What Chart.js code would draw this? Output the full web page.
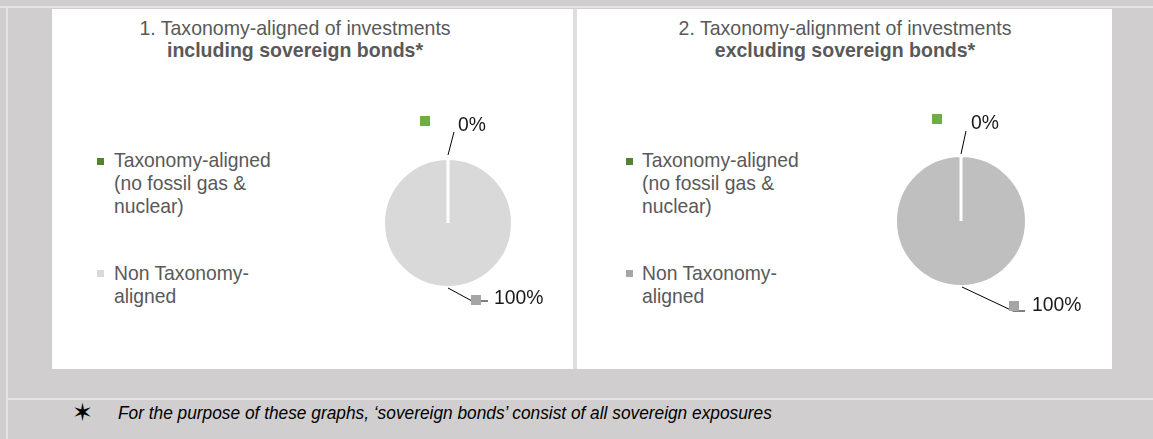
<!DOCTYPE html>
<html>
<head>
<meta charset="utf-8">
<script src="https://cdn.jsdelivr.net/npm/chart.js@4"></script>
<style>
  body { margin: 0; background: #d0cece; }
  #wrap { position: relative; width: 1153px; height: 439px; background: #d0cece; overflow: hidden;
          font-family: "Liberation Sans", Arial, sans-serif; }
  .abs { position: absolute; }
  .line { position: absolute; background: #e4e4e4; }
  .panel { position: absolute; top: 9px; height: 360px; background: #fff; }
  .title { position: absolute; width: 400px; text-align: center; font-size: 21px; line-height: 22px; color: #595959;
           transform: scaleX(0.93); transform-origin: 50% 0; }
  .leg { position: absolute; font-size: 21px; line-height: 23px; color: #595959; white-space: nowrap;
         transform: scaleX(0.92); transform-origin: 0 0; }
  .key { position: absolute; width: 7px; height: 7px; }
  canvas { position: absolute; }
  #note { position: absolute; left: 118px; top: 402px; font-size: 18.5px; line-height: 22px; font-style: italic; color: #000;
          white-space: nowrap; transform: scaleX(0.935); transform-origin: 0 0; }
  #star { position: absolute; left: 72px; top: 400px; font-size: 25px; line-height: 26px; font-family: "DejaVu Sans", sans-serif; }
</style>
</head>
<body>
<div id="wrap">
  <div class="line" style="left:0;top:6px;width:1153px;height:2px"></div>
  <div class="line" style="left:6px;top:6px;width:2px;height:433px"></div>
  <div class="line" style="left:6px;top:398px;width:1147px;height:2px"></div>

  <div class="panel" style="left:52px;width:521px"></div>
  <div class="abs" style="left:573px;top:9px;width:4px;height:360px;background:#dedede"></div>
  <div class="panel" style="left:577px;width:535px"></div>

  <div class="title" id="title1" style="left:95px;top:17px"></div>
  <div class="title" id="title2" style="left:645px;top:17px"></div>

  <div class="key" style="left:97px;top:158px;background:#548235"></div>
  <div class="leg" id="leg1a" style="left:114px;top:148px"></div>
  <div class="key" style="left:97px;top:270px;background:#d9d9d9"></div>
  <div class="leg" id="leg1b" style="left:114px;top:261px"></div>

  <div class="key" style="left:626px;top:158px;background:#548235"></div>
  <div class="leg" id="leg2a" style="left:642px;top:148px"></div>
  <div class="key" style="left:626px;top:270px;background:#a6a6a6"></div>
  <div class="leg" id="leg2b" style="left:642px;top:261px"></div>

  <canvas id="pie1" width="230" height="230" style="left:333px;top:108px"></canvas>
  <canvas id="pie2" width="250" height="250" style="left:836px;top:96px"></canvas>

  <div id="star">✶</div>
  <div id="note"></div>
</div>
<script>
const categories = ["Taxonomy-aligned (no fossil gas & nuclear)", "Non Taxonomy-aligned"];
const legendLines = [["Taxonomy-aligned", "(no fossil gas &", "nuclear)"], ["Non Taxonomy-", "aligned"]];
const titles1 = ["1. Taxonomy-aligned of investments", "including sovereign bonds*"];
const titles2 = ["2. Taxonomy-alignment of investments", "excluding sovereign bonds*"];
const valuesIncl = [0, 100];
const valuesExcl = [0, 100];
const footnote = "For the purpose of these graphs, \u2018sovereign bonds\u2019 consist of all sovereign exposures";

document.getElementById("title1").innerHTML = titles1[0] + "<br><b>" + titles1[1] + "</b>";
document.getElementById("title2").innerHTML = titles2[0] + "<br><b>" + titles2[1] + "</b>";
document.getElementById("leg1a").innerHTML = legendLines[0].join("<br>").replace("&", "&amp;");
document.getElementById("leg1b").innerHTML = legendLines[1].join("<br>");
document.getElementById("leg2a").innerHTML = legendLines[0].join("<br>").replace("&", "&amp;");
document.getElementById("leg2b").innerHTML = legendLines[1].join("<br>");
document.getElementById("note").textContent = footnote;

// data labels with leader lines and small colour keys, like the Excel original
const pieLabels = {
  id: "pieLabels",
  afterDatasetsDraw(chart, args, opts) {
    const ctx = chart.ctx;
    const meta = chart.getDatasetMeta(0);
    const data = chart.data.datasets[0].data;
    ctx.save();
    ctx.textBaseline = "middle";
    ctx.strokeStyle = "#000";
    ctx.lineWidth = 1;
    meta.data.forEach(function (arc, i) {
      const p = arc.getProps(["x", "y", "outerRadius"], true);
      const r = p.outerRadius - 1.5;
      const o = opts.spots[i];
      const cx = p.x, cy = p.y;
      const sign = o.up ? -1 : 1;
      const yy = function (d) { return cy + sign * (r + d); };
      ctx.beginPath();
      ctx.moveTo(cx + o.l0[0], yy(o.l0[1]));
      ctx.lineTo(cx + o.l1[0], yy(o.l1[1]));
      if (o.l2) ctx.lineTo(cx + o.l2[0], yy(o.l2[1]));
      ctx.stroke();
      ctx.fillStyle = opts.keyColors[i];
      ctx.fillRect(cx + o.key[0], yy(o.key[1]) - 5, 10, 10);
      // slightly condensed text, as in the original
      ctx.save();
      ctx.translate(cx + o.text[0], yy(o.text[1]));
      ctx.scale(0.92, 1);
      ctx.font = "21px 'Liberation Sans', Arial, sans-serif";
      ctx.fillStyle = "#1a1a1a";
      ctx.fillText(data[i] + "%", 0, 0);
      ctx.restore();
    });
    ctx.restore();
  },
};

function makePie(id, values, colour, spots) {
  new Chart(document.getElementById(id), {
    type: "pie",
    data: {
      labels: categories,
      datasets: [
        {
          data: values,
          backgroundColor: ["#548235", colour],
          borderColor: "#fff",
          borderWidth: 3,
          radius: id === "pie1" ? 64.5 : 65.5,
        },
      ],
    },
    options: {
      responsive: false,
      animation: false,
      layout: { padding: 0 },
      plugins: {
        legend: { display: false },
        tooltip: { enabled: false },
        pieLabels: { keyColors: ["#70ad47", "#a5a5a5"], spots: spots },
      },
    },
    plugins: [pieLabels],
  });
}

makePie("pie1", valuesIncl, "#d9d9d9", [
  { up: true, l0: [0, 5], l1: [6, 28], key: [-28, 39], text: [10, 35] },
  { up: false, l0: [0, 2], l1: [24, 15], l2: [40, 15], key: [23, 14], text: [46, 12] },
]);
makePie("pie2", valuesExcl, "#bfbfbf", [
  { up: true, l0: [0, 3], l1: [5, 26], key: [-29, 38], text: [10, 34] },
  { up: false, l0: [1, 2], l1: [52, 26], l2: [64, 26], key: [48, 21], text: [71, 20] },
]);
</script>
</body>
</html>
